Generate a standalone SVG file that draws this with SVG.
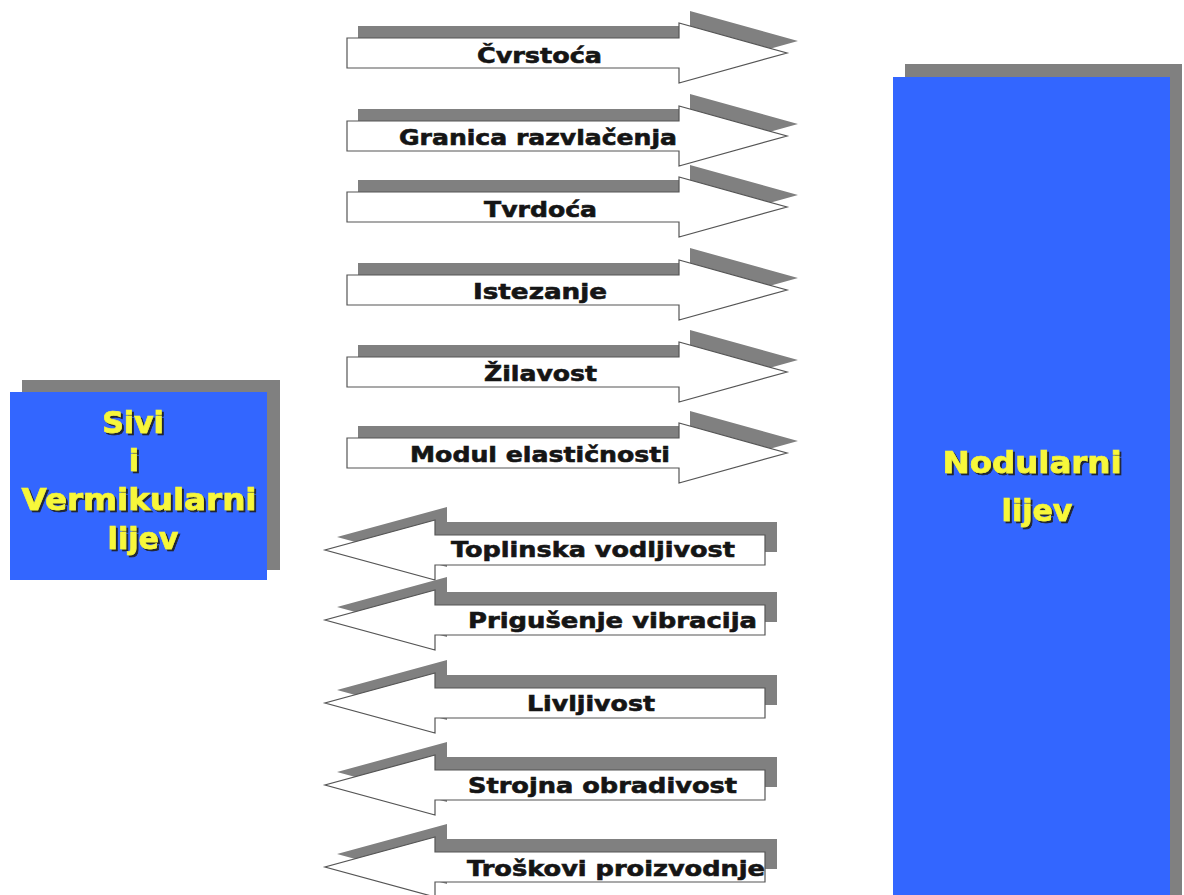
<svg xmlns="http://www.w3.org/2000/svg" xmlns:xlink="http://www.w3.org/1999/xlink" width="1184" height="895" viewBox="0 0 1184 895">
<style>
.shadow{fill:#808080;stroke:none}
.arrow{fill:#ffffff;stroke:#555555;stroke-width:1.2}
.box{fill:#3366ff}
.lbl{font-family:"DejaVu Sans","Verdana",sans-serif;font-weight:bold;font-size:21px;fill:#151515;stroke:#151515;stroke-width:0.6}
.big{font-family:"DejaVu Sans","Verdana",sans-serif;font-weight:bold;font-size:30px;fill:#f7f73a;stroke:#f7f73a;stroke-width:0.7;text-anchor:middle}
</style>
<defs>
<path id="ra" d="M347,-15 L679,-15 L679,-30 L787,0 L679,30 L679,15 L347,15 Z"/>
<path id="la" d="M765,-15 L435,-15 L435,-30 L325,0 L435,30 L435,15 L765,15 Z"/>
<filter id="ts" x="-10%" y="-20%" width="120%" height="150%">
<feDropShadow dx="2" dy="2" stdDeviation="0.6" flood-color="#1a1a1a" flood-opacity="0.9"/>
</filter>
</defs>
<rect width="1184" height="895" fill="#ffffff"/>

<g id="sivi">
<rect class="shadow" x="22" y="380" width="258" height="190"/>
<rect class="box" x="10" y="392" width="257" height="188"/>
<g filter="url(#ts)">
<text class="big" x="133" y="433">Sivi</text>
<text class="big" x="134" y="471">i</text>
<text class="big" x="139" y="510" textLength="235" lengthAdjust="spacingAndGlyphs">Vermikularni</text>
<text class="big" x="143" y="549">lijev</text>
</g>
</g>

<g id="nodularni">
<rect class="shadow" x="905" y="64" width="277" height="840"/>
<rect class="box" x="893" y="77" width="277" height="830"/>
<g filter="url(#ts)">
<text class="big" x="1032" y="473" textLength="179" lengthAdjust="spacingAndGlyphs">Nodularni</text>
<text class="big" x="1037" y="521">lijev</text>
</g>
</g>

<g id="connectors">
<g id="a1"><use href="#ra" class="shadow" transform="translate(11,41)"/><use href="#ra" class="arrow" transform="translate(0,53)"/>
<text class="lbl" x="477" y="63" textLength="125" lengthAdjust="spacingAndGlyphs">Čvrstoća</text></g>
<g id="a2"><use href="#ra" class="shadow" transform="translate(11,124)"/><use href="#ra" class="arrow" transform="translate(0,136)"/>
<text class="lbl" x="399" y="145" textLength="278" lengthAdjust="spacingAndGlyphs">Granica razvlačenja</text></g>
<g id="a3"><use href="#ra" class="shadow" transform="translate(11,195)"/><use href="#ra" class="arrow" transform="translate(0,207)"/>
<text class="lbl" x="484" y="217" textLength="113" lengthAdjust="spacingAndGlyphs">Tvrdoća</text></g>
<g id="a4"><use href="#ra" class="shadow" transform="translate(11,278)"/><use href="#ra" class="arrow" transform="translate(0,290)"/>
<text class="lbl" x="473" y="299" textLength="134" lengthAdjust="spacingAndGlyphs">Istezanje</text></g>
<g id="a5"><use href="#ra" class="shadow" transform="translate(11,360)"/><use href="#ra" class="arrow" transform="translate(0,372)"/>
<text class="lbl" x="484" y="381" textLength="113" lengthAdjust="spacingAndGlyphs">Žilavost</text></g>
<g id="a6"><use href="#ra" class="shadow" transform="translate(11,441)"/><use href="#ra" class="arrow" transform="translate(0,453)"/>
<text class="lbl" x="410" y="462" textLength="260" lengthAdjust="spacingAndGlyphs">Modul elastičnosti</text></g>

<g id="a7"><use href="#la" class="shadow" transform="translate(12,537)"/><use href="#la" class="arrow" transform="translate(0,550)"/>
<text class="lbl" x="451" y="557" textLength="284" lengthAdjust="spacingAndGlyphs">Toplinska vodljivost</text></g>
<g id="a8"><use href="#la" class="shadow" transform="translate(12,607)"/><use href="#la" class="arrow" transform="translate(0,620)"/>
<text class="lbl" x="468" y="628" textLength="289" lengthAdjust="spacingAndGlyphs">Prigušenje vibracija</text></g>
<g id="a9"><use href="#la" class="shadow" transform="translate(12,690)"/><use href="#la" class="arrow" transform="translate(0,703)"/>
<text class="lbl" x="527" y="711" textLength="128" lengthAdjust="spacingAndGlyphs">Livljivost</text></g>
<g id="a10"><use href="#la" class="shadow" transform="translate(12,772)"/><use href="#la" class="arrow" transform="translate(0,785)"/>
<text class="lbl" x="468" y="793" textLength="269" lengthAdjust="spacingAndGlyphs">Strojna obradivost</text></g>
<g id="a11"><use href="#la" class="shadow" transform="translate(12,854)"/><use href="#la" class="arrow" transform="translate(0,867)"/>
<text class="lbl" x="467" y="876" textLength="298" lengthAdjust="spacingAndGlyphs">Troškovi proizvodnje</text></g>
</g>
</svg>
